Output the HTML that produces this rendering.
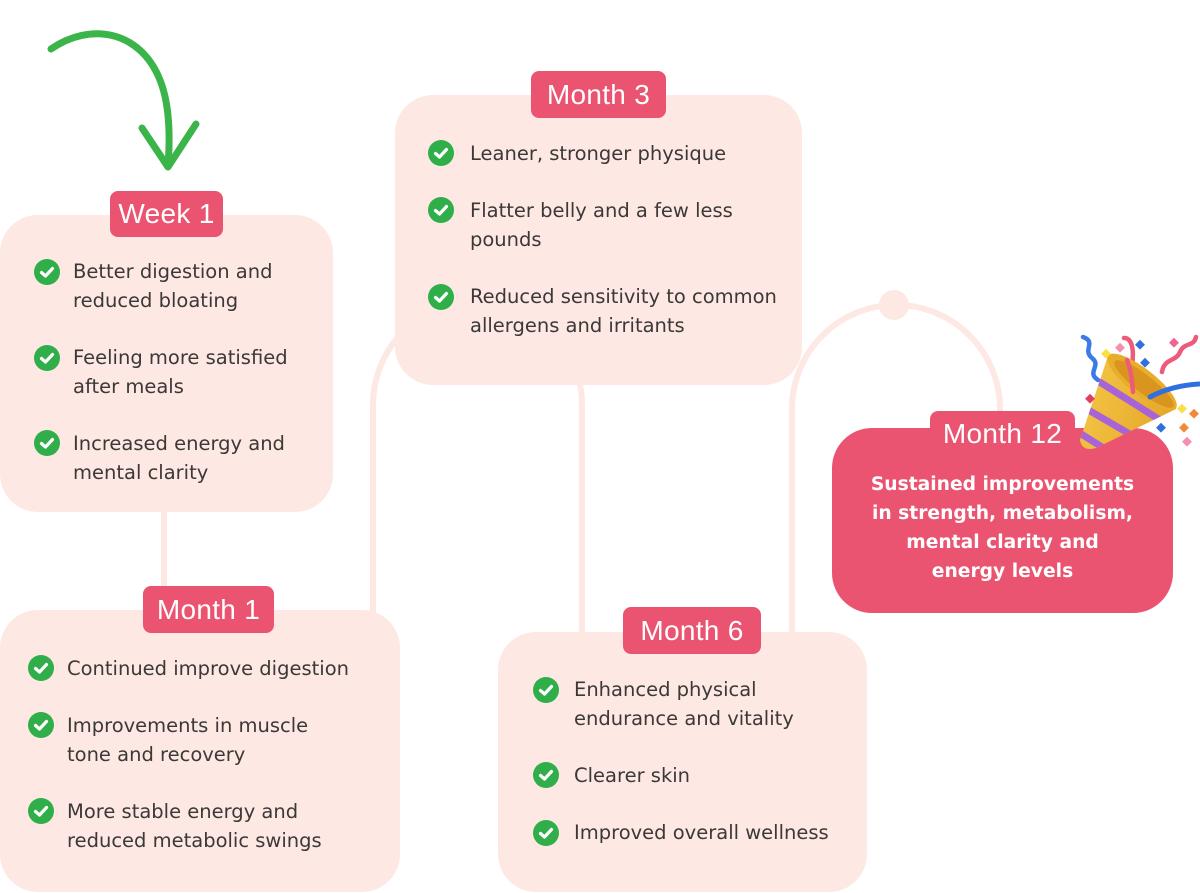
<!DOCTYPE html>
<html><head><meta charset="utf-8">
<style>
html,body{margin:0;padding:0;background:#fff;}
body{width:1200px;height:893px;position:relative;overflow:hidden;font-family:"DejaVu Sans",sans-serif;}
.box{position:absolute;background:#FDE8E3;border-radius:38px;}
.tab{position:absolute;background:#EB5470;border-radius:8px;color:#fff;font-size:28px;text-align:center;font-family:"Liberation Sans",sans-serif;letter-spacing:0.3px;}
.t{position:absolute;font-size:19.5px;color:#3b3838;line-height:29px;white-space:nowrap;font-family:"DejaVu Sans",sans-serif;}
.ck{position:absolute;width:26px;height:26px;}
.w{position:absolute;color:#fff;font-weight:bold;font-size:18.7px;line-height:29px;text-align:center;white-space:nowrap;font-family:"DejaVu Sans",sans-serif;}
svg{position:absolute;left:0;top:0;}
</style></head><body>
<svg width="1200" height="893" viewBox="0 0 1200 893">
  <g fill="none" stroke="#FDE8E3" stroke-width="6">
    <line x1="164" y1="505" x2="164" y2="592"/>
    <path d="M373 615 L373 405 A104.5 104.5 0 0 1 582 405 L582 640"/>
    <path d="M792 640 L792 409 A104 104 0 0 1 1000 409 L1000 430"/>
  </g>
  <circle cx="894" cy="305" r="15" fill="#FDE8E3"/>
  <g fill="none" stroke="#3BB54A" stroke-width="7" stroke-linecap="round" stroke-linejoin="round">
    <path d="M51 49 C90 22 140 30 160 80 C170 105 170 140 168 166"/>
    <path d="M142 128 L168 167 L196 124"/>
  </g>
</svg>

<!-- Week 1 -->
<div class="box" style="left:0;top:215px;width:333px;height:297px;"></div>
<div class="tab" style="left:110px;top:191px;width:113px;height:46px;line-height:46px;">Week 1</div>

<!-- Month 3 -->
<div class="box" style="left:395px;top:95px;width:407px;height:290px;"></div>
<div class="tab" style="left:531px;top:71px;width:135px;height:47px;line-height:47px;">Month 3</div>

<!-- Month 1 -->
<div class="box" style="left:0;top:610px;width:400px;height:282px;"></div>
<div class="tab" style="left:143px;top:586px;width:131px;height:47px;line-height:47px;">Month 1</div>

<!-- Month 6 -->
<div class="box" style="left:498px;top:632px;width:369px;height:260px;"></div>
<div class="tab" style="left:623px;top:607px;width:138px;height:47px;line-height:47px;">Month 6</div>

<!-- Month 12 -->
<div class="box" style="left:832px;top:428px;width:341px;height:185px;background:#EB5470;border-radius:40px;"></div>
<div class="tab" style="left:930px;top:411px;width:145px;height:46px;line-height:46px;">Month 12</div>
<div class="w" style="left:832px;top:470px;width:341px;">Sustained improvements</div>
<div class="w" style="left:832px;top:499px;width:341px;">in strength, metabolism,</div>
<div class="w" style="left:832px;top:528px;width:341px;">mental clarity and</div>
<div class="w" style="left:832px;top:557px;width:341px;">energy levels</div>

<!-- party popper -->
<svg width="1200" height="893" viewBox="0 0 1200 893">
  <defs>
    <clipPath id="cone"><path d="M1108 356 L1080 440 Q1082 452 1096 448 L1176 409 A44 14 38 0 0 1108 356 Z"/></clipPath>
    <linearGradient id="cg" x1="0" y1="0" x2="1" y2="0.3">
      <stop offset="0" stop-color="#F6C94A"/><stop offset="1" stop-color="#E6A82A"/>
    </linearGradient>
  </defs>
  <g fill="none" stroke-linecap="round" stroke-width="4.5">
    <path d="M1083 337 C1097 342 1082 350 1092 358 C1102 366 1086 372 1098 380" stroke="#3B7BE8"/>
    <path d="M1124 338 C1133 338 1134 352 1132 366 C1130 380 1134 392 1134 396" stroke="#EE5A7A"/>
    <path d="M1162 372 C1164 358 1176 362 1180 352 C1184 342 1194 347 1196 337" stroke="#EE5A7A"/>
  </g>
  <path d="M1108 356 L1080 440 Q1082 452 1096 448 L1176 409 A44 14 38 0 0 1108 356 Z" fill="url(#cg)"/>
  <g clip-path="url(#cone)" stroke="#A864D6" stroke-width="7" fill="none">
    <line x1="1095" y1="379" x2="1160" y2="420"/>
    <line x1="1085" y1="408" x2="1140" y2="440"/>
    <line x1="1078" y1="432" x2="1110" y2="452"/>
  </g>
  <ellipse cx="1142" cy="382" rx="43" ry="13" transform="rotate(38 1142 382)" fill="#E9AD2C"/>
  <ellipse cx="1144" cy="384" rx="37" ry="9" transform="rotate(38 1144 384)" fill="#D99520"/>
  <path d="M1150 397 C1165 389 1182 385 1199 384" stroke="#2F6FE0" stroke-width="5" fill="none" stroke-linecap="round"/>
  <path d="M1127 360 C1131 370 1132 380 1133 392" stroke="#EE5A7A" stroke-width="4.5" fill="none" stroke-linecap="round"/>
  <g>
    <rect x="1103" y="350" width="7" height="7" fill="#F8E04A" transform="rotate(45 1106 353)"/>
    <rect x="1117" y="344" width="7" height="7" fill="#F48FB1" transform="rotate(45 1120 347)"/>
    <rect x="1137" y="341" width="7" height="7" fill="#2F6FE0" transform="rotate(45 1140 344)"/>
    <rect x="1142" y="359" width="7" height="7" fill="#2F6FE0" transform="rotate(45 1145 362)"/>
    <rect x="1171" y="339" width="7" height="7" fill="#F06292" transform="rotate(45 1174 342)"/>
    <rect x="1087" y="395" width="7" height="7" fill="#E04060" transform="rotate(45 1090 398)"/>
    <rect x="1179" y="405" width="7" height="7" fill="#F8E04A" transform="rotate(45 1182 408)"/>
    <rect x="1191" y="410" width="7" height="7" fill="#F08A3A" transform="rotate(45 1194 413)"/>
    <rect x="1158" y="424" width="7" height="7" fill="#2F6FE0" transform="rotate(45 1161 427)"/>
    <rect x="1181" y="424" width="7" height="7" fill="#F08A3A" transform="rotate(45 1184 427)"/>
    <rect x="1184" y="438" width="7" height="7" fill="#F48FB1" transform="rotate(45 1187 441)"/>
  </g>
</svg>

<!-- Week 1 items -->
<svg class="ck" style="left:34px;top:259px" viewBox="0 0 26 26"><circle cx="13" cy="13" r="13" fill="#2FAE4A"/><path d="M7.5 13.5 L11.5 17 L18.5 9.5" stroke="#fff" stroke-width="3.2" fill="none" stroke-linecap="round" stroke-linejoin="round"/></svg>
<div class="t" style="left:73px;top:257px">Better digestion and</div>
<div class="t" style="left:73px;top:286px">reduced bloating</div>
<svg class="ck" style="left:34px;top:345px" viewBox="0 0 26 26"><circle cx="13" cy="13" r="13" fill="#2FAE4A"/><path d="M7.5 13.5 L11.5 17 L18.5 9.5" stroke="#fff" stroke-width="3.2" fill="none" stroke-linecap="round" stroke-linejoin="round"/></svg>
<div class="t" style="left:73px;top:343px">Feeling more satisfied</div>
<div class="t" style="left:73px;top:372px">after meals</div>
<svg class="ck" style="left:34px;top:430px" viewBox="0 0 26 26"><circle cx="13" cy="13" r="13" fill="#2FAE4A"/><path d="M7.5 13.5 L11.5 17 L18.5 9.5" stroke="#fff" stroke-width="3.2" fill="none" stroke-linecap="round" stroke-linejoin="round"/></svg>
<div class="t" style="left:73px;top:429px">Increased energy and</div>
<div class="t" style="left:73px;top:458px">mental clarity</div>

<!-- Month 3 items -->
<svg class="ck" style="left:428px;top:140px" viewBox="0 0 26 26"><circle cx="13" cy="13" r="13" fill="#2FAE4A"/><path d="M7.5 13.5 L11.5 17 L18.5 9.5" stroke="#fff" stroke-width="3.2" fill="none" stroke-linecap="round" stroke-linejoin="round"/></svg>
<div class="t" style="left:470px;top:139px">Leaner, stronger physique</div>
<svg class="ck" style="left:428px;top:197px" viewBox="0 0 26 26"><circle cx="13" cy="13" r="13" fill="#2FAE4A"/><path d="M7.5 13.5 L11.5 17 L18.5 9.5" stroke="#fff" stroke-width="3.2" fill="none" stroke-linecap="round" stroke-linejoin="round"/></svg>
<div class="t" style="left:470px;top:196px">Flatter belly and a few less</div>
<div class="t" style="left:470px;top:225px">pounds</div>
<svg class="ck" style="left:428px;top:284px" viewBox="0 0 26 26"><circle cx="13" cy="13" r="13" fill="#2FAE4A"/><path d="M7.5 13.5 L11.5 17 L18.5 9.5" stroke="#fff" stroke-width="3.2" fill="none" stroke-linecap="round" stroke-linejoin="round"/></svg>
<div class="t" style="left:470px;top:282px">Reduced sensitivity to common</div>
<div class="t" style="left:470px;top:311px">allergens and irritants</div>

<!-- Month 1 items -->
<svg class="ck" style="left:28px;top:655px" viewBox="0 0 26 26"><circle cx="13" cy="13" r="13" fill="#2FAE4A"/><path d="M7.5 13.5 L11.5 17 L18.5 9.5" stroke="#fff" stroke-width="3.2" fill="none" stroke-linecap="round" stroke-linejoin="round"/></svg>
<div class="t" style="left:67px;top:654px">Continued improve digestion</div>
<svg class="ck" style="left:28px;top:712px" viewBox="0 0 26 26"><circle cx="13" cy="13" r="13" fill="#2FAE4A"/><path d="M7.5 13.5 L11.5 17 L18.5 9.5" stroke="#fff" stroke-width="3.2" fill="none" stroke-linecap="round" stroke-linejoin="round"/></svg>
<div class="t" style="left:67px;top:711px">Improvements in muscle</div>
<div class="t" style="left:67px;top:740px">tone and recovery</div>
<svg class="ck" style="left:28px;top:798px" viewBox="0 0 26 26"><circle cx="13" cy="13" r="13" fill="#2FAE4A"/><path d="M7.5 13.5 L11.5 17 L18.5 9.5" stroke="#fff" stroke-width="3.2" fill="none" stroke-linecap="round" stroke-linejoin="round"/></svg>
<div class="t" style="left:67px;top:797px">More stable energy and</div>
<div class="t" style="left:67px;top:826px">reduced metabolic swings</div>

<!-- Month 6 items -->
<svg class="ck" style="left:533px;top:677px" viewBox="0 0 26 26"><circle cx="13" cy="13" r="13" fill="#2FAE4A"/><path d="M7.5 13.5 L11.5 17 L18.5 9.5" stroke="#fff" stroke-width="3.2" fill="none" stroke-linecap="round" stroke-linejoin="round"/></svg>
<div class="t" style="left:574px;top:675px">Enhanced physical</div>
<div class="t" style="left:574px;top:704px">endurance and vitality</div>
<svg class="ck" style="left:533px;top:762px" viewBox="0 0 26 26"><circle cx="13" cy="13" r="13" fill="#2FAE4A"/><path d="M7.5 13.5 L11.5 17 L18.5 9.5" stroke="#fff" stroke-width="3.2" fill="none" stroke-linecap="round" stroke-linejoin="round"/></svg>
<div class="t" style="left:574px;top:761px">Clearer skin</div>
<svg class="ck" style="left:533px;top:820px" viewBox="0 0 26 26"><circle cx="13" cy="13" r="13" fill="#2FAE4A"/><path d="M7.5 13.5 L11.5 17 L18.5 9.5" stroke="#fff" stroke-width="3.2" fill="none" stroke-linecap="round" stroke-linejoin="round"/></svg>
<div class="t" style="left:574px;top:818px">Improved overall wellness</div>
</body></html>
